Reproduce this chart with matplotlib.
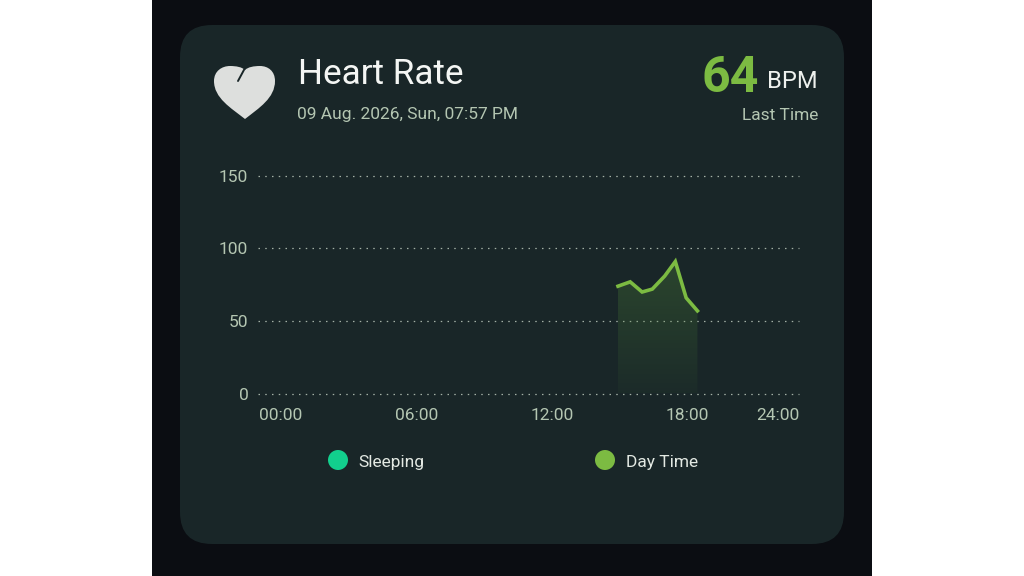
import matplotlib.pyplot as plt
import numpy as np
from matplotlib.patches import Circle, FancyBboxPatch, PathPatch, Rectangle
from matplotlib.path import Path

plt.rcParams["font.family"] = ["Roboto", "DejaVu Sans"]

# Data
hours = [14.93, 15.47, 16.0, 16.45, 17.0, 17.47, 17.95, 18.45]
bpm = [74, 77, 70, 72, 81, 91, 66, 57]
y_ticks = [0, 50, 100, 150]
x_ticks = [0, 6, 12, 18, 22.03]  # the app pushes the last label in from the edge
x_labels = ["00:00", "06:00", "12:00", "18:00", "24:00"]

W, H = 1024, 576
CARD = "#192628"
GREEN = "#7cbb42"
MUTED = "#b4c6b2"

fig = plt.figure(figsize=(W / 100, H / 100), dpi=100, facecolor="white")

# Background layer in pixel coordinates
bg = fig.add_axes([0, 0, 1, 1])
bg.set_xlim(0, W)
bg.set_ylim(H, 0)
bg.axis("off")
bg.add_patch(Rectangle((152, 0), 720, H, color="#0b0d12", lw=0))
bg.add_patch(
    FancyBboxPatch(
        (180 + 32, 25 + 32), 664 - 64, 519 - 64,
        boxstyle="round,pad=32,rounding_size=32", fc=CARD, ec="none",
    )
)

# Heart icon
heart_verts = [
    (245, 119),
    (231, 108), (214, 98), (214, 81),
    (214, 71), (222, 66), (230, 66),
    (236, 66), (242, 67), (245, 70),
    (248, 67), (254, 66), (260, 66),
    (268, 66), (275, 71), (275, 81),
    (275, 98), (259, 108), (245, 119),
]
heart_codes = [Path.MOVETO] + [Path.CURVE4] * 18
bg.add_patch(PathPatch(Path(heart_verts, heart_codes), fc="#dddfdd", ec="none"))
bg.plot([245, 238], [68, 81], color=CARD, lw=1.4, solid_capstyle="round")

# Header text
bg.text(298, 74, "Heart Rate", color="#f4f6f4", fontsize=25.3, va="center", ha="left")
bg.text(297, 115, "09 Aug. 2026, Sun, 07:57 PM", color=MUTED, fontsize=12.5, va="center", ha="left")
bg.text(759, 79, "64", color=GREEN, fontsize=36, fontweight="bold", va="center", ha="right")
bg.text(818, 82, "BPM", color="#eef1ee", fontsize=17, va="center", ha="right")
bg.text(818, 115, "Last Time", color=MUTED, fontsize=12.5, va="center", ha="right")

# Legend
bg.add_patch(Circle((338, 460), 10, fc="#12cf8d", ec="none"))
bg.text(358.5, 463, "Sleeping", color="#e3e9e3", fontsize=12.5, va="center", ha="left")
bg.add_patch(Circle((605, 460), 10, fc=GREEN, ec="none"))
bg.text(626, 463, "Day Time", color="#e3e9e3", fontsize=12.5, va="center", ha="left")

# Chart
ax = fig.add_axes([258 / W, (H - 393.5) / H, 541 / W, 217.5 / H])
ax.patch.set_alpha(0)
ax.set_xlim(-1.02, 22.95)
ax.set_ylim(0, 150)
for side in ax.spines.values():
    side.set_visible(False)

ax.set_yticks(y_ticks)
ax.set_xticks(x_ticks)
ax.set_xticklabels(x_labels)
ax.tick_params(axis="both", length=0, labelcolor=MUTED, labelsize=12.5)
ax.tick_params(axis="y", pad=7)
ax.tick_params(axis="x", pad=10.5)
ax.grid(True, axis="y", color="#a3b0a6", lw=0.9, linestyle=(0, (1.2, 4.2)))
for gl in ax.get_ygridlines():
    gl.set_clip_on(False)

# Fill under the line, fading downwards
fill = ax.fill_between(hours, bpm, 0, color="none")
grad = np.zeros((100, 2, 4))
grad[..., :3] = (0.30, 0.50, 0.22)
grad[..., 3] = np.linspace(0.36, 0.06, 100)[:, None]
img = ax.imshow(grad, extent=[hours[0], hours[-1], 0, max(bpm)], aspect="auto", zorder=2)
img.set_clip_path(fill.get_paths()[0], ax.transData)
ax.set_xlim(-1.02, 22.95)
ax.set_ylim(0, 150)

ax.plot(hours, bpm, color=GREEN, lw=2.6, solid_joinstyle="miter", zorder=3)

fig.savefig("out.png", dpi=100)
